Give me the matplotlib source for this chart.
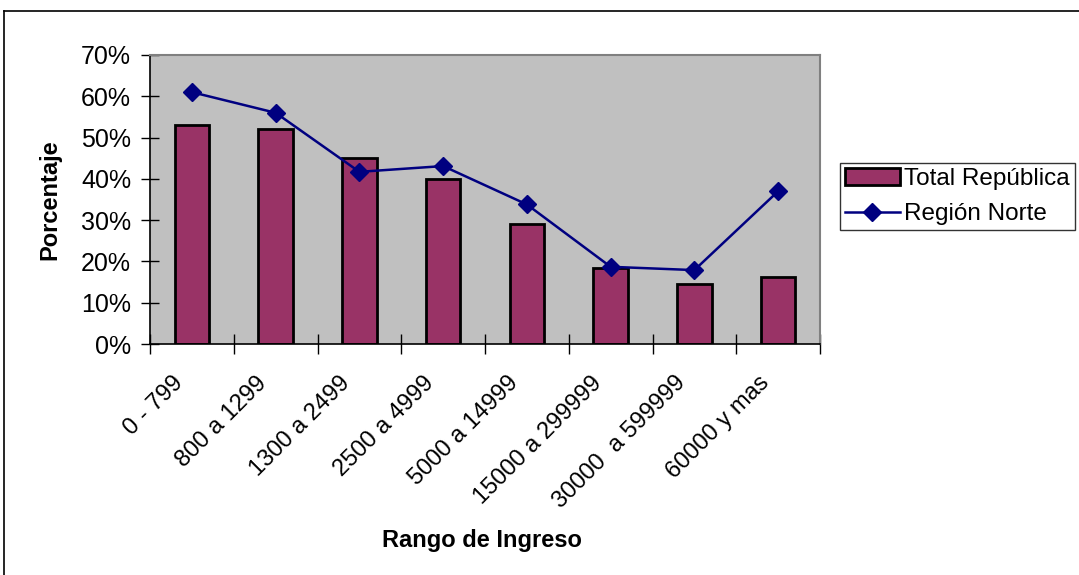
import matplotlib
matplotlib.use("Agg")
import matplotlib.pyplot as plt
import matplotlib.transforms as mtransforms
from matplotlib.lines import Line2D
from matplotlib.ticker import FuncFormatter, FixedLocator, NullFormatter

plt.rcParams['font.family'] = ['Liberation Sans', 'DejaVu Sans']

# data
categorias = ["0 - 799", "800 a 1299", "1300 a 2499", "2500 a 4999",
              "5000 a 14999", "15000 a 299999", "30000  a 599999", "60000 y mas"]
total_republica = [53, 52, 45, 40, 29, 18.5, 14.5, 16.2]
region_norte = [61, 56, 41.7, 43.1, 33.8, 18.7, 17.9, 37]

W, H = 1079, 575
fig = plt.figure(figsize=(W / 100, H / 100), dpi=100)
ax = fig.add_axes([150 / W, 1 - 344 / H, 670 / W, 289 / H])
ax.set_facecolor('#c0c0c0')

x = list(range(len(categorias)))
bars = ax.bar(x, total_republica, width=0.41, color='#993366', edgecolor='black',
              linewidth=2, label='Total República', zorder=2)
line, = ax.plot(x, region_norte, color='#000080', marker='D', markersize=9,
                linewidth=1.8, label='Región Norte', zorder=3)

ax.set_xlim(-0.5, len(categorias) - 0.5)
ax.set_ylim(0, 70)
ax.set_yticks(range(0, 71, 10))
ax.yaxis.set_major_formatter(FuncFormatter(lambda v, p: f"{int(v)}%"))
ax.tick_params(axis='y', direction='inout', length=13, width=1, labelsize=18, pad=7)

# ticks on category boundaries, labels at category centres
ax.xaxis.set_major_locator(FixedLocator([i - 0.5 for i in range(len(categorias) + 1)]))
ax.xaxis.set_major_formatter(NullFormatter())
ax.xaxis.set_minor_locator(FixedLocator(x))
ax.set_xticklabels(categorias, minor=True, rotation=45, ha='right',
                   rotation_mode='anchor', fontsize=17)
ax.tick_params(axis='x', which='major', direction='inout', length=14, width=1)
ax.tick_params(axis='x', which='minor', length=0, pad=18)
shift = mtransforms.ScaledTranslation(-0.2, -0.03, fig.dpi_scale_trans)
for lab in ax.get_xticklabels(minor=True):
    lab.set_transform(lab.get_transform() + shift)

for s in ['top', 'right']:
    ax.spines[s].set_color('#808080')
    ax.spines[s].set_linewidth(1.5)
for s in ['left', 'bottom']:
    ax.spines[s].set_color('black')
    ax.spines[s].set_linewidth(1.2)

fig.text(50 / W, 1 - 200 / H, 'Porcentaje', rotation=90, ha='center', va='center',
         fontsize=17, fontweight='bold')
fig.text(482 / W, 1 - 541 / H, 'Rango de Ingreso', ha='center', va='center',
         fontsize=17, fontweight='bold')

leg = fig.legend([bars, line], ['Total República', 'Región Norte'],
                 loc='upper left', bbox_to_anchor=(840 / W, 1 - 163 / H),
                 fontsize=17.5, frameon=True, fancybox=False, borderpad=0.2,
                 labelspacing=0.55, handlelength=2.25, handletextpad=0.2,
                 borderaxespad=0)
leg.get_frame().set_edgecolor('black')
leg.get_frame().set_linewidth(1.0)

# outer chart frame (partly outside the picture)
fig.add_artist(Line2D([4 / W, 1], [1 - 11 / H, 1 - 11 / H], color='black', linewidth=1.2))
fig.add_artist(Line2D([4 / W, 4 / W], [0, 1 - 11 / H], color='black', linewidth=1.2))

fig.savefig('out.png', dpi=100)
